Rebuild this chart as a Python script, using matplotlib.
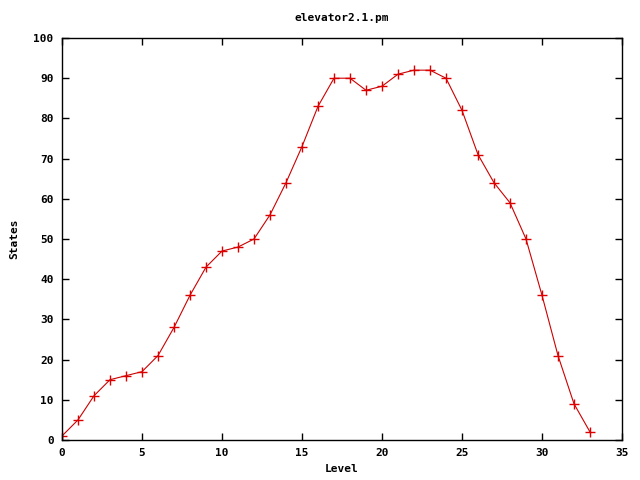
import matplotlib
matplotlib.use('Agg')
from matplotlib import pyplot as plt

level = list(range(34))
states = [1, 5, 11, 15, 16, 17, 21, 28, 36, 43, 47, 48, 50, 56, 64, 73, 83, 90, 90,
          87, 88, 91, 92, 92, 90, 82, 71, 64, 59, 50, 36, 21, 9, 2]

plt.rcParams['font.family'] = 'DejaVu Sans Mono'
plt.rcParams['font.weight'] = 'bold'
plt.rcParams['font.size'] = 8

fig = plt.figure(figsize=(6.4, 4.8), dpi=100)
ax = fig.add_axes([62/640, 40/480, 560/640, 402/480])
ax.plot(level, states, color='#cc0000', lw=0.8, marker='+', ms=7, mew=1.0, mec='#dd0000')

ax.set_xlim(0, 35)
ax.set_ylim(0, 100)
ax.set_xticks(range(0, 36, 5))
ax.set_yticks(range(0, 101, 10))
ax.tick_params(direction='in', top=True, right=True, length=5, width=1, labelsize=8, pad=6)
for s in ax.spines.values():
    s.set_linewidth(1)

ax.set_title('elevator2.1.pm', fontsize=8, fontweight='bold', pad=12)
ax.set_xlabel('Level', fontsize=8, fontweight='bold', labelpad=4)
ax.set_ylabel('States', fontsize=8, fontweight='bold', labelpad=10)

fig.savefig('out.png', dpi=100)
